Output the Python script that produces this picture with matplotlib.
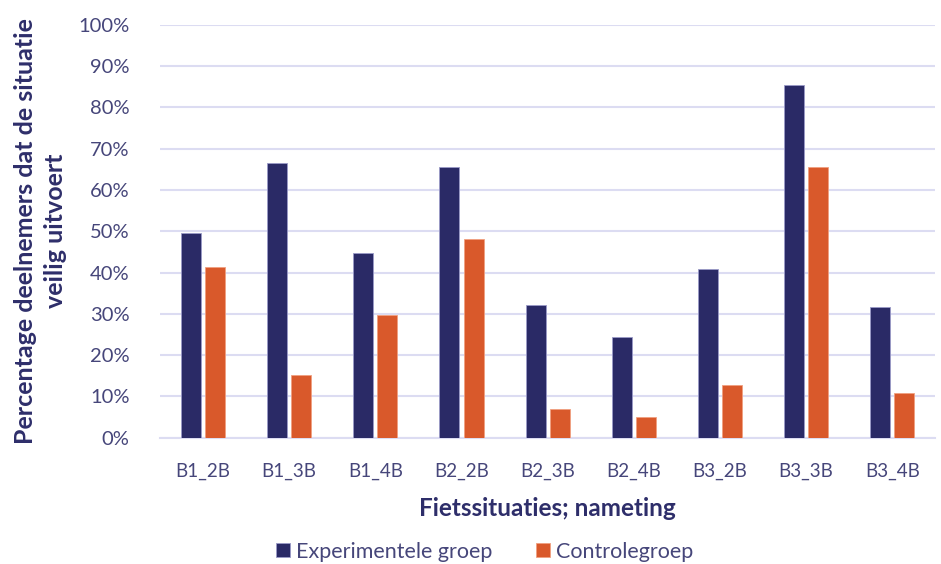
import matplotlib
matplotlib.use("Agg")
import matplotlib.pyplot as plt
import numpy as np
from matplotlib.ticker import PercentFormatter

categories = ["B1_2B", "B1_3B", "B1_4B", "B2_2B", "B2_3B", "B2_4B", "B3_2B", "B3_3B", "B3_4B"]
experimenteel = [49.6, 66.5, 44.8, 65.5, 32.1, 24.4, 40.9, 85.5, 31.6]
controle = [41.4, 15.2, 29.7, 48.2, 7.0, 5.0, 12.8, 65.6, 10.8]
yticks = [0, 10, 20, 30, 40, 50, 60, 70, 80, 90, 100]

navy = "#2a2a66"
orange = "#d9592b"
textc = "#46467a"
titlec = "#2e2e6a"
gridc = "#dcdcf2"

plt.rcParams['font.family'] = ['Lato', 'DejaVu Sans']

fig = plt.figure(figsize=(9.41, 5.64), dpi=100)
ax = fig.add_axes([0.170, 0.224, 0.824, 0.732])

x = np.arange(len(categories))
w = 0.233
off = 0.14
ax.bar(x - off, experimenteel, w, color=navy, edgecolor="#9a9ac8", linewidth=0.6,
       label="Experimentele groep", zorder=3)
ax.bar(x + off, controle, w, color=orange, edgecolor="#f0a080", linewidth=0.6,
       label="Controlegroep", zorder=3)

ax.set_ylim(0, 100)
ax.set_xlim(-0.5, len(categories) - 0.5)
ax.set_yticks(yticks)
ax.yaxis.set_major_formatter(PercentFormatter(100, decimals=0))
ax.set_xticks(x)
ax.set_xticklabels(categories)
ax.tick_params(axis='both', length=0, colors=textc)
ax.tick_params(axis='x', pad=18, labelsize=13.5)
ax.tick_params(axis='y', pad=22, labelsize=14.5)
ax.grid(axis='y', color=gridc, linewidth=1.5, zorder=0)
for s in ['top', 'right', 'left']:
    ax.spines[s].set_visible(False)
ax.spines['bottom'].set_color(gridc)
ax.spines['bottom'].set_linewidth(1.5)

ax.set_xlabel("Fietssituaties; nameting", fontsize=17.5, fontweight='bold', color=titlec, labelpad=12)
ax.set_ylabel("Percentage deelnemers dat de situatie\nveilig uitvoert", fontsize=18,
              fontweight='bold', color=titlec, labelpad=8, linespacing=1.35)

leg = fig.legend(loc='center', bbox_to_anchor=(0.515, 0.022), ncol=2, frameon=False,
                 fontsize=15.5, handlelength=0.65, handleheight=0.65, handletextpad=0.3,
                 columnspacing=2.0)
for t in leg.get_texts():
    t.set_color(textc)

fig.savefig("out.png", dpi=100)
